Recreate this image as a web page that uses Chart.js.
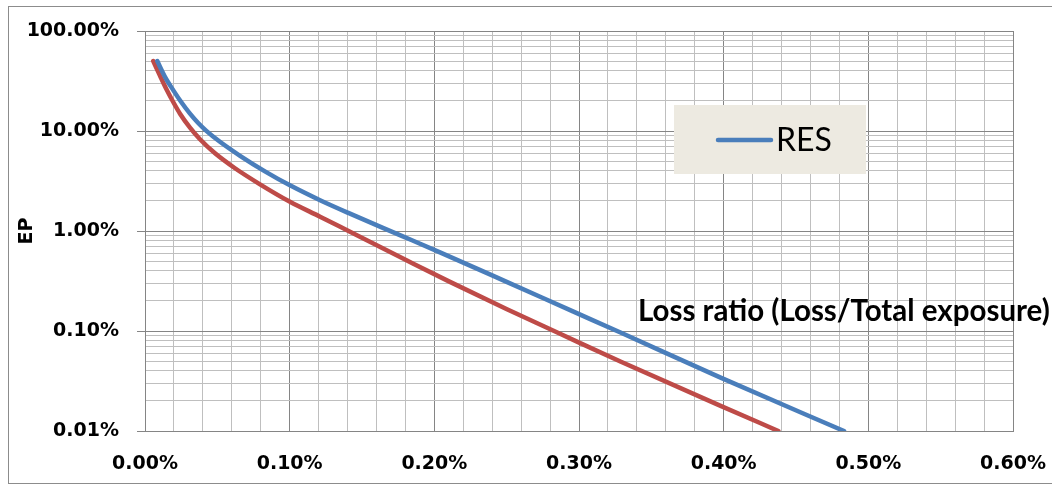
<!DOCTYPE html>
<html>
<head>
<meta charset="utf-8">
<script src="https://cdn.jsdelivr.net/npm/chart.js@4.4.1/dist/chart.umd.min.js"></script>
<style>
  html, body { margin: 0; padding: 0; background: #ffffff; overflow: hidden; }
  #wrap { width: 1052px; height: 485px; position: relative; }
</style>
</head>
<body>
<div id="wrap"><canvas id="c" width="1052" height="485"></canvas></div>
<script>
// Exceedance probability curves: loss ratio (%) against EP (%)
const resLoss = [0.0085, 0.0138, 0.0196, 0.0249, 0.0311, 0.0366, 0.0422, 0.0518, 0.0657, 0.0829, 0.1002, 0.1210, 0.1417, 0.1774, 0.2039, 0.2500, 0.2958, 0.3283, 0.3975, 0.4832];
const resEP   = [50, 34.8, 25.5, 19.6, 14.9, 12.1, 10.1, 7.80, 5.65, 3.95, 2.86, 2.03, 1.49, 0.895, 0.612, 0.310, 0.157, 0.0971, 0.0344, 0.01];

const altLoss = [0.0057, 0.0104, 0.0150, 0.0194, 0.0242, 0.0311, 0.0380, 0.0484, 0.0622, 0.0795, 0.1002, 0.1210, 0.1417, 0.1811, 0.2108, 0.2502, 0.2869, 0.3290, 0.3975, 0.4378];
const altEP   = [50, 35.6, 25.8, 19.6, 14.9, 10.8, 8.26, 5.98, 4.24, 2.93, 1.96, 1.39, 0.982, 0.507, 0.310, 0.165, 0.0938, 0.0492, 0.01795, 0.01];

// Axis ticks (percent)
const xMajorTicks = [0, 0.1, 0.2, 0.3, 0.4, 0.5, 0.6];
const xMinorStep = 0.02;
const yDecades = [0.01, 0.1, 1, 10, 100];
const yMantissas = [1, 2, 3, 4, 5, 6, 7, 8, 9];

const legendLabel = 'RES';
const otherLabel = 'Series 2';
const xAxisTitle = 'Loss ratio (Loss/Total exposure)';
const yAxisTitle = 'EP';

const BLUE = '#4A7EBB';
const RED = '#BE4B48';
const GRID_MAJOR = '#858585';
const GRID_MINOR = '#BFBFBF';
const TICK_FONT = 'DejaVu Sans';
const TEXT_FONT = 'Lato';

const toPoints = (xs, ys) => xs.map((x, i) => ({ x: x, y: ys[i] }));

const xGridValues = [];
for (let i = 0; i <= Math.round(xMajorTicks[xMajorTicks.length - 1] / xMinorStep); i++) {
  xGridValues.push(Math.round(i * xMinorStep * 1000) / 1000);
}
const yGridValues = [];
for (let d = 0; d < yDecades.length - 1; d++) {
  for (const m of yMantissas) yGridValues.push(Number((m * yDecades[d]).toPrecision(6)));
}
yGridValues.push(yDecades[yDecades.length - 1]);

const isXMajor = v => xMajorTicks.some(t => Math.abs(t - v) < 1e-9);
const isYMajor = v => yDecades.some(t => Math.abs(t - v) / t < 1e-9);

// White page with the outer chart frame
const framePlugin = {
  id: 'frame',
  beforeDraw(chart) {
    const ctx = chart.ctx;
    ctx.save();
    ctx.fillStyle = '#ffffff';
    ctx.fillRect(0, 0, chart.width, chart.height);
    ctx.strokeStyle = '#8C8C8C';
    ctx.lineWidth = 1;
    ctx.strokeRect(8.5, 6.5, chart.width + 20, 477);
    ctx.restore();
  }
};

// Boxed legend inside the plot and the x-axis caption
const overlayPlugin = {
  id: 'overlay',
  afterDraw(chart) {
    const ctx = chart.ctx;
    const ds = chart.data.datasets[0];
    ctx.save();
    // legend box
    ctx.fillStyle = '#EDEAE1';
    ctx.fillRect(674, 105, 192, 69);
    ctx.strokeStyle = ds.borderColor;
    ctx.lineWidth = 4.5;
    ctx.lineCap = 'round';
    ctx.beginPath();
    ctx.moveTo(718, 140);
    ctx.lineTo(771, 140);
    ctx.stroke();
    ctx.fillStyle = '#000000';
    ctx.font = 'normal 32px ' + TEXT_FONT;
    ctx.textBaseline = 'middle';
    ctx.textAlign = 'left';
    ctx.fillText(ds.label, 776, 141);
    // x-axis caption, sized to span 412px
    ctx.font = 'bold 28px ' + TEXT_FONT;
    const w = ctx.measureText(xAxisTitle).width;
    const size = 28 * 412 / w;
    ctx.font = 'bold ' + size.toFixed(2) + 'px ' + TEXT_FONT;
    ctx.fillText(xAxisTitle, 638, 311);
    ctx.restore();
  }
};

new Chart(document.getElementById('c'), {
  type: 'scatter',
  data: {
    datasets: [
      {
        label: legendLabel,
        data: toPoints(resLoss, resEP),
        showLine: true,
        borderColor: BLUE,
        backgroundColor: BLUE,
        borderWidth: 4.5,
        pointRadius: 0,
        cubicInterpolationMode: 'monotone',
        borderCapStyle: 'round',
        borderJoinStyle: 'round'
      },
      {
        label: otherLabel,
        data: toPoints(altLoss, altEP),
        showLine: true,
        borderColor: RED,
        backgroundColor: RED,
        borderWidth: 4.5,
        pointRadius: 0,
        cubicInterpolationMode: 'monotone',
        borderCapStyle: 'round',
        borderJoinStyle: 'round'
      }
    ]
  },
  options: {
    responsive: false,
    animation: false,
    layout: { padding: { left: 8, top: 31, right: 39, bottom: 0 } },
    plugins: {
      legend: { display: false },
      tooltip: { enabled: false }
    },
    scales: {
      x: {
        type: 'linear',
        min: 0,
        max: 0.6,
        afterBuildTicks: s => { s.ticks = xGridValues.map(v => ({ value: v })); },
        afterFit: s => { s.height = 54; s.paddingLeft = 0; s.paddingRight = 0; },
        ticks: {
          autoSkip: false,
          maxRotation: 0,
          padding: 22,
          color: '#000000',
          font: { family: TICK_FONT, weight: 'bold', size: 19 },
          callback: v => isXMajor(v) ? v.toFixed(2) + '%' : ''
        },
        grid: {
          drawTicks: false,
          lineWidth: 1,
          color: c => (c.tick && isXMajor(c.tick.value)) ? GRID_MAJOR : GRID_MINOR
        },
        border: { color: GRID_MAJOR, width: 1 }
      },
      y: {
        type: 'logarithmic',
        min: 0.01,
        max: 100,
        afterBuildTicks: s => { s.ticks = yGridValues.map(v => ({ value: v })); },
        afterFit: s => { s.width = 137; s.paddingTop = 0; s.paddingBottom = 0; },
        ticks: {
          autoSkip: false,
          padding: 18,
          color: '#000000',
          font: { family: TICK_FONT, weight: 'bold', size: 19 },
          callback: v => isYMajor(v) ? v.toFixed(2) + '%' : ''
        },
        grid: {
          lineWidth: 1,
          tickLength: 8,
          color: c => (c.tick && isYMajor(c.tick.value)) ? GRID_MAJOR : GRID_MINOR,
          tickColor: c => (c.tick && isYMajor(c.tick.value)) ? GRID_MAJOR : 'rgba(0,0,0,0)'
        },
        border: { color: GRID_MAJOR, width: 1 },
        title: {
          display: true,
          text: yAxisTitle,
          color: '#000000',
          font: { family: TICK_FONT, weight: 'bold', size: 19 },
          padding: { top: 8, bottom: 0 }
        }
      }
    }
  },
  plugins: [framePlugin, overlayPlugin]
});
</script>
</body>
</html>
